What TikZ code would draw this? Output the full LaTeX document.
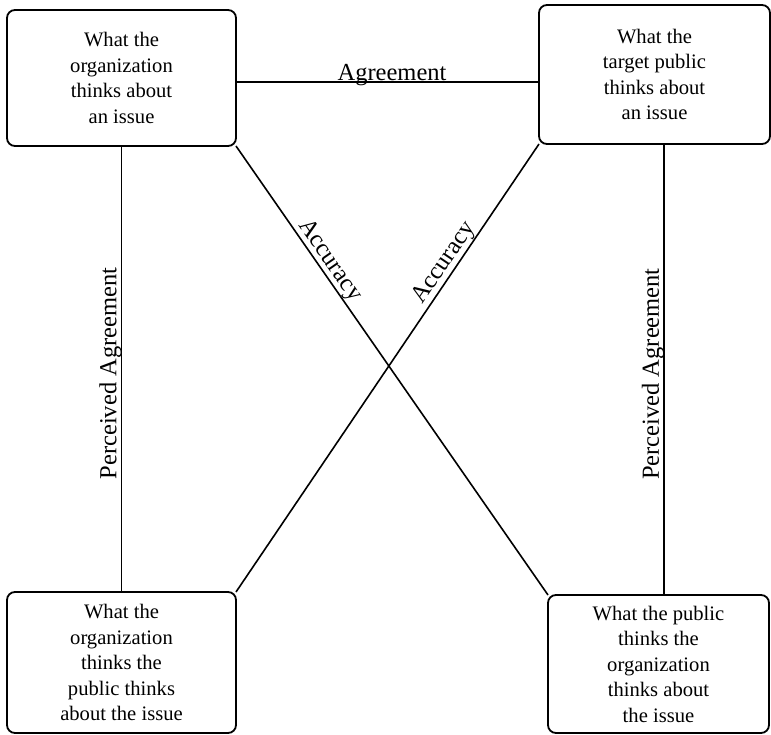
\documentclass[tikz,border=0pt]{standalone}
\usepackage{fontspec}
\setmainfont{Liberation Serif}
\usepackage{tikz}
\usetikzlibrary{positioning}

\begin{document}
\begin{tikzpicture}[x=1pt, y=-1pt,
                        issue/.style={draw, line width=1.8pt, rounded corners=8pt, inner sep=0pt, outer sep=0pt,
                            align=center, font=\fontsize{20.6}{25.5}\selectfont},
                        link/.style={line width=1.6pt},
                        lbl/.style={font=\fontsize{24.5}{29}\selectfont, inner sep=0pt}]
                        \useasboundingbox (0, 0) rectangle (771, 735);
                        \node[issue, minimum width=229, minimum height=136] (org) at (121.5, 78)
                            {What the\\organization\\thinks about\\an issue};
                        \node[issue, minimum width=231, minimum height=139] (pub) at (654.5, 74.5)
                            {What the\\target public\\thinks about\\an issue};
                        \node[issue, minimum width=229, minimum height=141] (orgpub) at (121.5, 662.5)
                            {What the\\organization\\thinks the\\public thinks\\about the issue};
                        \node[issue, minimum width=221, minimum height=138] (puborg) at (658.5, 664)
                            {What the public\\thinks the\\organization\\thinks about\\the issue};
                        \draw[link]
                        ([yshift=-4pt]org.east) edge node[lbl, pos=0.515, above=-5pt]{Agreement} ([yshift=-7.5pt]pub.west)
                        (orgpub.north) edge node[lbl, pos=0.49, sloped, above=-1pt]{Perceived Agreement} (org.south)
                        ([xshift=5.5pt]puborg.north) edge node[lbl, pos=0.49, sloped, above=-1pt]{Perceived Agreement} ([xshift=9.5pt]pub.south)
                        (org.south east) edge node[lbl, pos=0.27, sloped, above=0pt]{Accuracy} (puborg.north west)
                        (orgpub.north east) edge node[lbl, pos=0.72, sloped, above=0pt]{Accuracy} (pub.south west);
                    \end{tikzpicture}
\end{document}
